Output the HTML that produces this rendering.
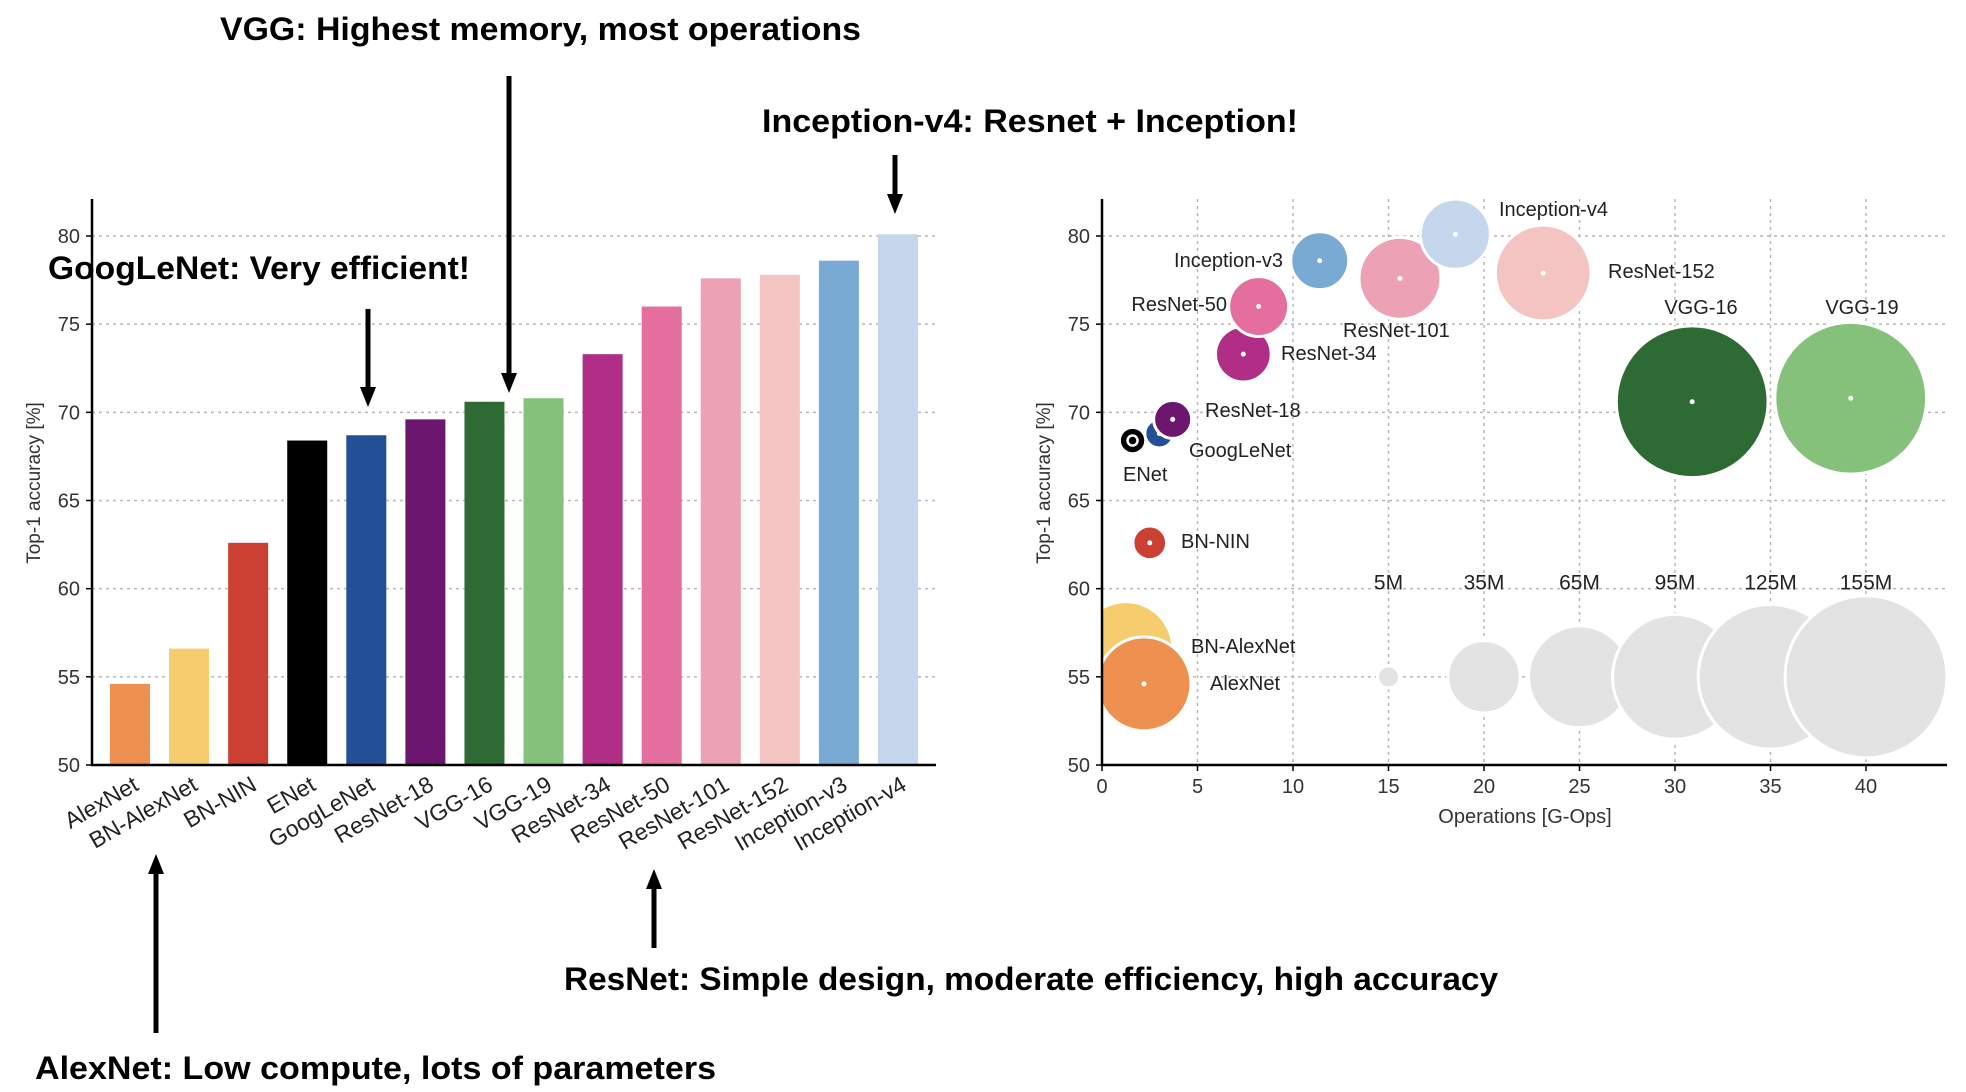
<!DOCTYPE html>
<html><head><meta charset="utf-8"><style>
html,body{margin:0;padding:0;background:#fff;}
svg{display:block;font-family:"Liberation Sans","DejaVu Sans",sans-serif;}
</style></head><body>
<svg id="root" width="1966" height="1092" viewBox="0 0 1966 1092"></svg>
<script>
// ---- Bar chart data ----
const barNames = ["AlexNet","BN-AlexNet","BN-NIN","ENet","GoogLeNet","ResNet-18","VGG-16","VGG-19","ResNet-34","ResNet-50","ResNet-101","ResNet-152","Inception-v3","Inception-v4"];
const barAcc = [54.6,56.6,62.6,68.4,68.7,69.6,70.6,70.8,73.3,76.0,77.6,77.8,78.6,80.1];
const barColors = ["#ee9150","#f5cd6e","#cc3f33","#000000","#234f96","#6c166f","#2e6a33","#85c17a","#b02e86","#e46f9f","#eda1b5","#f3c4c1","#78aad3","#c5d7ec"];
const yTicks = [50,55,60,65,70,75,80];
// ---- Bubble chart data ----
const bubNames = ["BN-AlexNet","AlexNet","BN-NIN","ENet","GoogLeNet","ResNet-18","ResNet-34","ResNet-50","Inception-v3","ResNet-101","Inception-v4","ResNet-152","VGG-16","VGG-19"];
const bubOps = [1.25,2.2,2.5,1.6,3.0,3.7,7.4,8.2,11.4,15.6,18.5,23.1,30.9,39.2];
const bubAcc = [56.6,54.6,62.6,68.4,68.8,69.6,73.3,76.0,78.6,77.6,80.1,77.9,70.6,70.8];
const bubParams = [56,56,9.5,6.5,7.5,11.6,22,25,23.6,43.7,33,58,137,137];
const bubColors = ["#f5cd6e","#ee9150","#cc3f33","#000000","#234f96","#6c166f","#b02e86","#e46f9f","#78aad3","#eda1b5","#c5d7ec","#f3c4c1","#2e6a33","#85c17a"];
const refParams = [5,35,65,95,125,155];
const refOps = [15,20,25,30,35,40];
const refLabels = ["5M","35M","65M","95M","125M","155M"];
const xTicks = [0,5,10,15,20,25,30,35,40];

const NS="http://www.w3.org/2000/svg";
const root=document.getElementById('root');
function mk(tag,attrs,parent,text){const e=document.createElementNS(NS,tag);for(const k in attrs)e.setAttribute(k,attrs[k]);if(text!==undefined)e.textContent=text;(parent||root).appendChild(e);return e;}

const yTop=236, yBot=765;
function yS(v){return yBot-(v-50)*(yBot-yTop)/30;}
function xBar(i){return 130+i*(898-130)/13;}
function xOps(v){return 1102+v*(1866-1102)/40;}
function rS(p){return Math.max(10,6.85*Math.sqrt(p)-4.3);}

// ===== Left bar chart =====
const gL=mk('g',{});


yTicks.forEach(t=>{
  if(t>50){const l=mk('line',{x1:92,x2:935,y1:yS(t),y2:yS(t),stroke:'#b8b8b8','stroke-width':1.5,'stroke-dasharray':'3,4'},gL);
  }
  const tl=mk('text',{x:80,y:yS(t)+7,'text-anchor':'end','font-size':20,fill:'#333'},gL,String(t));
  
  mk('line',{x1:86,x2:92,y1:yS(t),y2:yS(t),stroke:'#000','stroke-width':1.5},gL);
});
barNames.forEach((n,i)=>{
  const r=mk('rect',{x:xBar(i)-20,y:yS(barAcc[i]),width:40,height:yBot-yS(barAcc[i]),fill:barColors[i]},gL);
  
  
  const t=mk('text',{x:xBar(i)+10,y:yBot+24,'text-anchor':'end','font-size':23,fill:'#222',transform:`rotate(-30 ${xBar(i)+10} ${yBot+24})`},gL,n);
  
  
});
mk('line',{x1:92,x2:92,y1:199,y2:766,stroke:'#000','stroke-width':2.5},gL);
mk('line',{x1:91,x2:936,y1:765,y2:765,stroke:'#000','stroke-width':2.5},gL);
const ytl=mk('text',{x:40,y:483,'text-anchor':'middle','font-size':19,fill:'#333',transform:'rotate(-90 40 483)'},gL,'Top-1 accuracy [%]');


// ===== Right bubble chart =====
const gR=mk('g',{});


yTicks.forEach(t=>{
  if(t>50){const l=mk('line',{x1:1102,x2:1947,y1:yS(t),y2:yS(t),stroke:'#b8b8b8','stroke-width':1.5,'stroke-dasharray':'3,4'},gR);
  }
  const tl=mk('text',{x:1090,y:yS(t)+7,'text-anchor':'end','font-size':20,fill:'#333'},gR,String(t));
  
  mk('line',{x1:1096,x2:1102,y1:yS(t),y2:yS(t),stroke:'#000','stroke-width':1.5},gR);
});
xTicks.forEach(t=>{
  if(t>0){const l=mk('line',{x1:xOps(t),x2:xOps(t),y1:199,y2:yBot,stroke:'#b8b8b8','stroke-width':1.5,'stroke-dasharray':'3,4'},gR);
  }
  mk('line',{x1:xOps(t),x2:xOps(t),y1:yBot,y2:yBot+6,stroke:'#000','stroke-width':1.5},gR);
  const tl=mk('text',{x:xOps(t),y:yBot+28,'text-anchor':'middle','font-size':20,fill:'#333'},gR,String(t));
  
});
const clip=mk('clipPath',{id:'plotclip'},gR);
mk('rect',{x:1102,y:190,width:845,height:575},clip);
const gB=mk('g',{'clip-path':'url(#plotclip)'},gR);
refParams.forEach((p,i)=>{
  const c=mk('circle',{cx:xOps(refOps[i]),cy:yS(55),r:rS(p),fill:'#e3e3e3',stroke:'#fff','stroke-width':3},gB);
  
  
  const t=mk('text',{x:xOps(refOps[i]),y:yS(60)+1,'text-anchor':'middle','font-size':21,fill:'#222'},gR,refLabels[i]);
  
  
});
bubNames.forEach((n,i)=>{
  const c=mk('circle',{cx:xOps(bubOps[i]),cy:yS(bubAcc[i]),r:rS(bubParams[i]),fill:bubColors[i],stroke:'#fff','stroke-width':3},gB);
  
  
  if(n==="ENet"){mk('circle',{cx:xOps(bubOps[i]),cy:yS(bubAcc[i]),r:5,fill:'none',stroke:'#fff','stroke-width':2.5},gB);}
  else mk('circle',{cx:xOps(bubOps[i]),cy:yS(bubAcc[i]),r:2.5,fill:'#fff'},gB);
});
const bubLabels=[["Inception-v4",1499,209,"start"],["Inception-v3",1283,260,"end"],["ResNet-50",1227,304,"end"],["ResNet-101",1343,330,"start"],["ResNet-152",1608,271,"start"],["ResNet-34",1281,353,"start"],["ResNet-18",1205,410,"start"],["GoogLeNet",1189,450,"start"],["ENet",1123,474,"start"],["BN-NIN",1181,541,"start"],["BN-AlexNet",1191,646,"start"],["AlexNet",1210,683,"start"],["VGG-16",1701,307,"middle"],["VGG-19",1862,307,"middle"]];
bubLabels.forEach(b=>{
  const t=mk('text',{x:b[1],y:b[2]+7,'text-anchor':b[3],'font-size':20,fill:'#222'},gR,b[0]);
  
  
});
mk('line',{x1:1102,x2:1102,y1:199,y2:766,stroke:'#000','stroke-width':2.5},gR);
mk('line',{x1:1101,x2:1947,y1:765,y2:765,stroke:'#000','stroke-width':2.5},gR);
const xt=mk('text',{x:1525,y:823,'text-anchor':'middle','font-size':20,fill:'#333'},gR,'Operations [G-Ops]');

const yt2=mk('text',{x:1050,y:483,'text-anchor':'middle','font-size':19,fill:'#333',transform:'rotate(-90 1050 483)'},gR,'Top-1 accuracy [%]');


// ===== Annotations =====
const gA=mk('g',{});


function note(txt,x,cy,w,name){
  const t=mk('text',{x:x,y:cy+11,'font-size':32,'font-weight':'bold',fill:'#000',textLength:w,lengthAdjust:'spacingAndGlyphs'},gA,txt);
  
  
}
function arrow(x,y1,y2,name){
  const dir=y2>y1?1:-1;
  const g=mk('g',{},gA);
  
  
  mk('line',{x1:x,x2:x,y1:y1,y2:y2-dir*18,stroke:'#000','stroke-width':5},g);
  mk('polygon',{points:`${x-8},${y2-dir*20} ${x+8},${y2-dir*20} ${x},${y2}`,fill:'#000'},g);
}
note('VGG: Highest memory, most operations',220,29,641,'vgg-annotation');
arrow(509,76,393,'vgg-arrow');
note('Inception-v4: Resnet + Inception!',762,121,536,'inception-annotation');
arrow(895,155,214,'inception-arrow');
note('GoogLeNet: Very efficient!',48,268,422,'googlenet-annotation');
arrow(368,309,407,'googlenet-arrow');
arrow(156,1033,854,'alexnet-arrow');
note('AlexNet: Low compute, lots of parameters',35,1068,681,'alexnet-annotation');
arrow(654,948,869,'resnet-arrow');
note('ResNet: Simple design, moderate efficiency, high accuracy',564,979,934,'resnet-annotation');
</script>
</body></html>
